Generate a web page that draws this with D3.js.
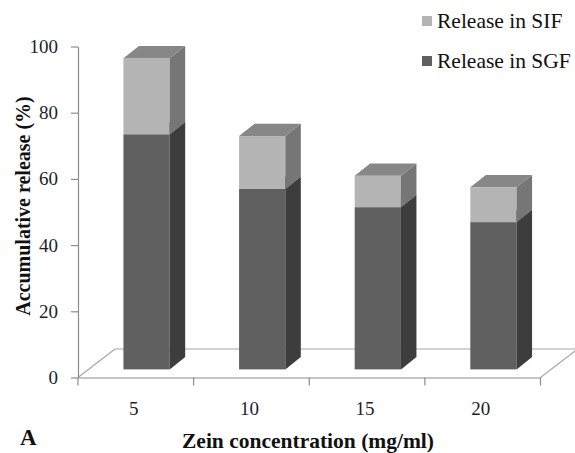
<!DOCTYPE html>
<html>
<head>
<meta charset="utf-8">
<script src="https://cdn.jsdelivr.net/npm/d3@7"></script>
<style>
  html, body { margin: 0; padding: 0; background: #fff; }
  svg { display: block; }
</style>
</head>
<body>
<svg id="chart" width="575" height="453"></svg>
<script>
// Zein concentration categories and cumulative release (%) per medium
const categories = ["5", "10", "15", "20"];
const releaseSGF = [71, 54.5, 49, 44.5];
const releaseSIF = [23, 16, 9.5, 10.5];
const yTickValues = [0, 20, 40, 60, 80, 100];
const seriesNames = ["Release in SIF", "Release in SGF"];

const svg = d3.select("#chart");
const serif = "'Liberation Serif', 'Times New Roman', serif";

// plot frame
const left = 78, right = 540.5, yBottom = 377.5, yTop = 46.5;
// oblique depth of the floor and of each bar
const floorDx = 37, floorDy = -28.5;
const barDx = 15.5, barDy = -12.3;

const x = d3.scaleBand().domain(categories).range([left, right]).padding(0);
const y = d3.scaleLinear().domain([0, 100]).range([yBottom, yTop]);

const colors = {
  SGF: { front: "#606060", side: "#3d3d3d", top: "#555555" },
  SIF: { front: "#b4b4b4", side: "#767676", top: "#878787" }
};

// floor parallelogram (front edge is the category axis)
const floorColor = "#a6a6a6";
const floor = svg.append("g").attr("stroke", floorColor).attr("stroke-width", 1.2).attr("fill", "none");
floor.append("line").attr("x1", left).attr("y1", yBottom).attr("x2", left + floorDx).attr("y2", yBottom + floorDy);
floor.append("line").attr("x1", left + floorDx).attr("y1", yBottom + floorDy).attr("x2", right + floorDx).attr("y2", yBottom + floorDy);
floor.append("line").attr("x1", right).attr("y1", yBottom).attr("x2", right + floorDx).attr("y2", yBottom + floorDy);

// stacked 3D columns
const barW = x.bandwidth() * 0.4;
const shiftX = (floorDx - barDx) / 2;
const shiftY = (floorDy - barDy) / 2;

const stacks = categories.map((c, i) => ({
  cat: c,
  segs: [
    { key: "SGF", v0: 0, v1: releaseSGF[i] },
    { key: "SIF", v0: releaseSGF[i], v1: releaseSGF[i] + releaseSIF[i] }
  ]
}));

const bars = svg.append("g");
stacks.forEach(s => {
  const x0 = x(s.cat) + (x.bandwidth() - barW) / 2 + shiftX;
  const g = bars.append("g");
  s.segs.forEach(seg => {
    const yT = y(seg.v1) + shiftY;
    const yB = y(seg.v0) + shiftY;
    const col = colors[seg.key];
    g.append("rect")
      .attr("x", x0).attr("y", yT).attr("width", barW).attr("height", yB - yT)
      .attr("fill", col.front);
    g.append("polygon")
      .attr("points", [[x0 + barW, yB], [x0 + barW + barDx, yB + barDy], [x0 + barW + barDx, yT + barDy], [x0 + barW, yT]].join(" "))
      .attr("fill", col.side);
    g.append("polygon")
      .attr("points", [[x0, yT], [x0 + barDx, yT + barDy], [x0 + barW + barDx, yT + barDy], [x0 + barW, yT]].join(" "))
      .attr("fill", col.top);
  });
});

// value axis
const axisColor = "#8c8c8c";
const yAxis = svg.append("g")
  .attr("transform", `translate(${left},0)`)
  .call(d3.axisLeft(y).tickValues(yTickValues).tickSize(7).tickPadding(13).tickSizeOuter(0));
yAxis.select(".domain").attr("stroke", axisColor).attr("stroke-width", 1.2);
yAxis.selectAll(".tick line").attr("stroke", axisColor).attr("stroke-width", 1.2);
yAxis.selectAll(".tick text").attr("font-family", serif).attr("font-size", 19).attr("fill", "#1e1e2e");

// category axis: labels under band centres, ticks on band edges
const xAxis = svg.append("g")
  .attr("transform", `translate(0,${yBottom})`)
  .call(d3.axisBottom(x).tickSize(0).tickPadding(24).tickSizeOuter(0));
xAxis.select(".domain").attr("stroke", axisColor).attr("stroke-width", 1.2);
xAxis.selectAll(".tick text").attr("font-family", serif).attr("font-size", 19).attr("fill", "#1e1e2e")
  .attr("dx", -2);
const edges = categories.map(c => x(c)).concat([x(categories[categories.length - 1]) + x.bandwidth()]);
xAxis.selectAll("line.edge").data(edges).enter().append("line")
  .attr("class", "edge")
  .attr("x1", d => d).attr("x2", d => d).attr("y1", 0).attr("y2", 8)
  .attr("stroke", axisColor).attr("stroke-width", 1.2);

// axis titles
svg.append("text")
  .attr("x", 308).attr("y", 448)
  .attr("text-anchor", "middle")
  .attr("font-family", serif).attr("font-weight", "bold").attr("font-size", 21.5)
  .attr("fill", "#111")
  .text("Zein concentration (mg/ml)");

svg.append("text")
  .attr("transform", "translate(30,206) rotate(-90)")
  .attr("text-anchor", "middle")
  .attr("font-family", serif).attr("font-weight", "bold").attr("font-size", 20)
  .attr("fill", "#111")
  .text("Accumulative release (%)");

svg.append("text")
  .attr("x", 20).attr("y", 445)
  .attr("font-family", serif).attr("font-weight", "bold").attr("font-size", 23)
  .attr("fill", "#111")
  .text("A");

// legend
const legendKeys = ["SIF", "SGF"];
const legend = svg.append("g");
legendKeys.forEach((k, i) => {
  const cy = 21 + i * 40;
  legend.append("rect")
    .attr("x", 422).attr("y", cy - 5).attr("width", 10).attr("height", 10)
    .attr("fill", colors[k].front);
  legend.append("text")
    .attr("x", 437).attr("y", cy + 7)
    .attr("font-family", serif).attr("font-size", 21.5).attr("fill", "#111")
    .text(seriesNames[i]);
});
</script>
</body>
</html>
